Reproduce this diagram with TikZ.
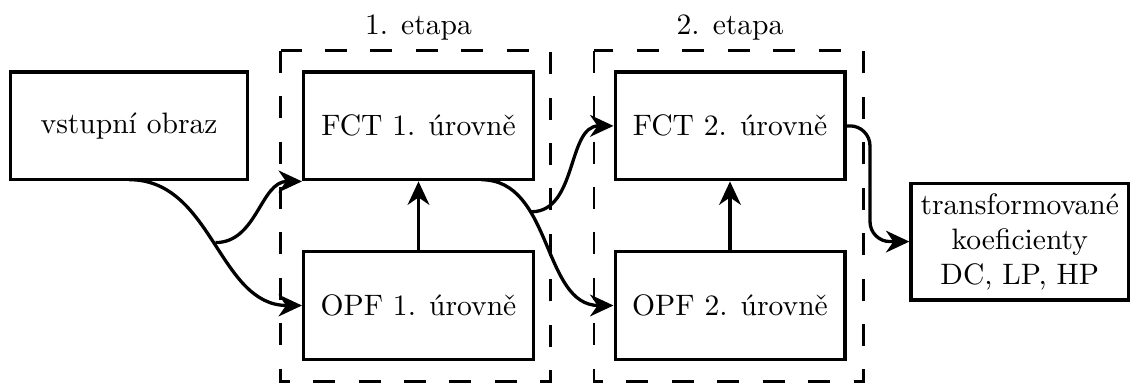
\documentclass[tikz,border=0pt]{standalone}
\usetikzlibrary{arrows.meta,calc}
\begin{document}
\begin{tikzpicture}[x=0.35pt,y=-0.35pt,
  every node/.style={font=\fontsize{10.35}{12.3}\selectfont},
  box/.style={draw, line width=1.15pt, minimum width=80.4pt, minimum height=37.7pt, inner sep=2pt},
  conn/.style={line width=1.15pt, -{Stealth[length=8.2pt,width=7.6pt,inset=2.6pt]}},
  frame/.style={line width=0.9pt, dash pattern=on 7.7pt off 8.2pt},
  stagelabel/.style={anchor=base, inner sep=0pt}]
\useasboundingbox (0,0) rectangle (1130,383);

% processing blocks
\node[box, minimum width=83pt] (in) at (129.1,125.8) {vstupní obraz};
\node[box] (fct1) at (418.5,125.9) {FCT 1. úrovně};
\node[box] (opf1) at (418.5,305.5) {OPF 1. úrovně};
\node[box] (fct2) at (730,125.9) {FCT 2. úrovně};
\node[box] (opf2) at (730,305.5) {OPF 2. úrovně};
\node[box, minimum width=76.1pt, minimum height=40.8pt, align=center] (out) at (1019.75,241.6)
  {transformované\\koeficienty\\DC, LP, HP};

% dashed frames of the two stages
\coordinate (s1nw) at (280.7,50.7);
\coordinate (s1se) at (550.7,381.7);
\coordinate (s2nw) at (594,50.7);
\coordinate (s2se) at (863.3,381.7);
\draw[frame] (s1nw) -- (s1nw |- s1se) -- (s1se) -- (s1se |- s1nw) -- cycle;
\draw[frame] (s2nw) -- (s2nw |- s2se) -- (s2se) -- (s2se |- s2nw) -- cycle;
\node[stagelabel] (lab1) at (418.5,34.3) {1. etapa};
\node[stagelabel] (lab2) at (730,34.3) {2. etapa};

% stage 1
\coordinate (src1) at ([yshift=0.575pt]in.south);
\draw[conn] (src1) to[out=0,in=180] coordinate[pos=0.5] (fork1) (opf1.west);
\draw[conn] (fork1) to[out=0,in=180] (fct1.south west);
\draw[conn] (opf1.north) -- (fct1.south);

% stage 2
\coordinate (src2) at ([yshift=0.575pt]$(fct1.south west)!0.77!(fct1.south east)$);
\draw[conn] (src2) to[out=0,in=180] coordinate[pos=0.33] (fork2) (opf2.west);
\draw[conn] (fork2) to[out=0,in=180] (fct2.west);
\draw[conn] (opf2.north) -- (fct2.south);

% output
\coordinate (bend) at (870,184);
\draw[conn, rounded corners=7pt] (fct2.east) -| (bend) |- (out.west);
\end{tikzpicture}
\end{document}
